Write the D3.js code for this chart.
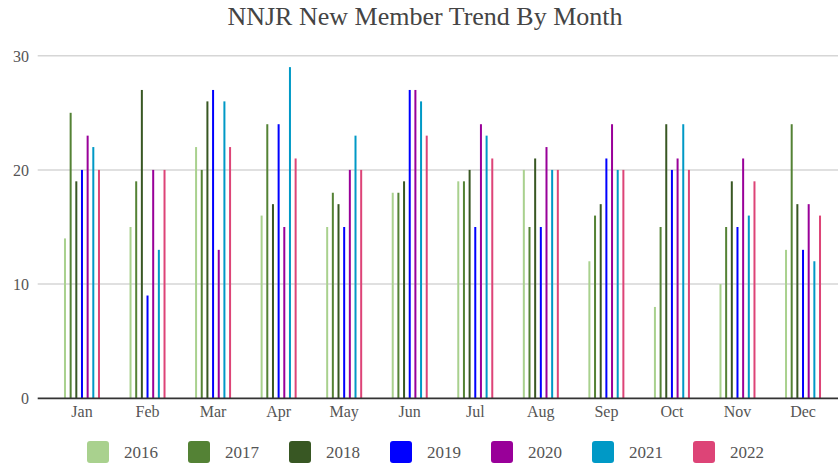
<!DOCTYPE html>
<html>
<head>
<meta charset="utf-8">
<script src="https://cdn.jsdelivr.net/npm/d3@7"></script>
<style>
  html, body { margin: 0; padding: 0; background: #fff; }
  svg { display: block; }
  svg text { font-family: "Liberation Serif", "Times New Roman", serif !important; }
</style>
</head>
<body>
<svg id="chart" width="838" height="465"></svg>
<script>
const months = ["Jan","Feb","Mar","Apr","May","Jun","Jul","Aug","Sep","Oct","Nov","Dec"];
const years = ["2016","2017","2018","2019","2020","2021","2022"];
const colors = ["#a9d18e","#548235","#385723","#0000ff","#990099","#0099c6","#dd4477"];
const s2016 = [14,15,22,16,15,18,19,20,12,8,10,13];
const s2017 = [25,19,20,24,18,18,19,15,16,15,15,24];
const s2018 = [19,27,26,17,17,19,20,21,17,24,19,17];
const s2019 = [20,9,27,24,15,27,15,15,21,20,15,13];
const s2020 = [23,20,13,15,20,27,24,22,24,21,21,17];
const s2021 = [22,13,26,29,23,26,23,20,20,24,16,12];
const s2022 = [20,20,22,21,20,23,21,20,20,20,19,16];
const yTicks = [0,10,20,30];
const title = "NNJR New Member Trend By Month";

const series = [s2016,s2017,s2018,s2019,s2020,s2021,s2022];

const svg = d3.select("#chart");

const x0 = d3.scaleBand().domain(months).range([49.2, 835.8]).paddingInner(0.395).paddingOuter(0.1975);
const x1 = d3.scalePoint().domain(years).range([0, x0.bandwidth()]).padding(0.5);
const y = d3.scaleLinear().domain([0, 30]).range([398.3, 55.7]);

// title
svg.append("text")
  .attr("x", 425).attr("y", 25)
  .attr("text-anchor", "middle")
  .attr("font-size", 26)
  .attr("fill", "#444")
  .text(title);

// grid labels
const yAxis = d3.axisLeft(y).tickValues(yTicks).tickSize(0).tickPadding(0);
const gy = svg.append("g").attr("transform", "translate(29,0)").call(yAxis);
gy.select(".domain").remove();
gy.selectAll("text").attr("font-size", 16).attr("fill", "#555").attr("dy", "0.35em");

svg.append("g").selectAll("line")
  .data(yTicks.filter(d => d !== 0))
  .join("line")
  .attr("x1", 37.7).attr("x2", 838)
  .attr("y1", d => y(d)).attr("y2", d => y(d))
  .attr("stroke", "#d6d6d6").attr("stroke-width", 1.5);

// bars
const data = [];
months.forEach((m, i) => {
  years.forEach((yr, j) => data.push({ m, yr, v: series[j][i], c: colors[j] }));
});
svg.append("g").selectAll("rect")
  .data(data)
  .join("rect")
  .attr("x", d => x0(d.m) + x1(d.yr) - 1)
  .attr("width", 2)
  .attr("y", d => y(d.v))
  .attr("height", d => y(0) - y(d.v))
  .attr("fill", d => d.c);

// baseline
svg.append("line")
  .attr("x1", 37.7).attr("x2", 838)
  .attr("y1", y(0)).attr("y2", y(0))
  .attr("stroke", "#333").attr("stroke-width", 1.8);

// x axis labels
const xAxis = d3.axisBottom(x0).tickSize(0).tickPadding(0);
const gx = svg.append("g").attr("transform", "translate(0,406)").call(xAxis);
gx.select(".domain").remove();
gx.selectAll("text").attr("font-size", 16).attr("fill", "#555").attr("dy", "0.71em");

// legend
const leg = svg.append("g").selectAll("g")
  .data(years)
  .join("g")
  .attr("transform", (d, i) => `translate(${87 + i * 101},441)`);
leg.append("rect")
  .attr("width", 22).attr("height", 22).attr("rx", 3)
  .attr("fill", (d, i) => colors[i]);
leg.append("text")
  .attr("x", 37).attr("y", 11).attr("dy", "0.35em")
  .attr("font-size", 17).attr("fill", "#555")
  .text(d => d);
</script>
</body>
</html>
